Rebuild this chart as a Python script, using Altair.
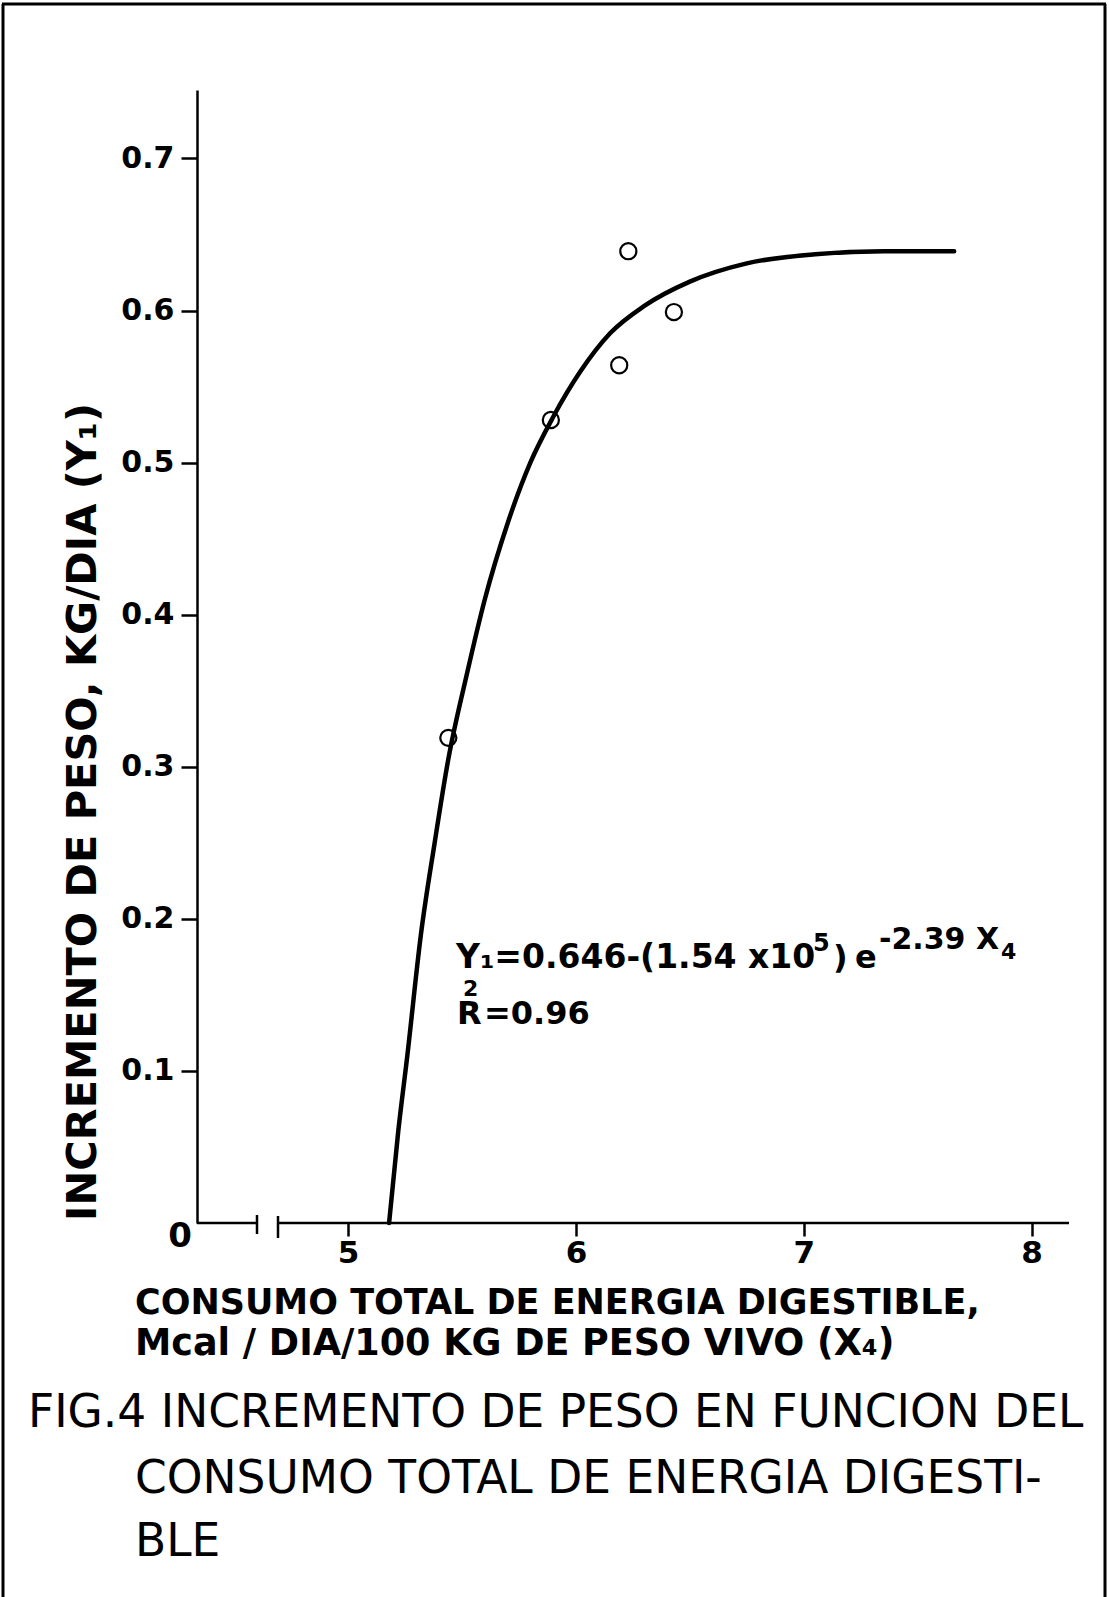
import altair as alt
import pandas as pd

# ---- data ----
obs_x = [5.44, 5.89, 6.19, 6.23, 6.43]
obs_y = [0.319, 0.528, 0.564, 0.639, 0.599]

fit_x = [5.18, 5.22, 5.26, 5.32, 5.38, 5.44, 5.52, 5.60, 5.70, 5.80, 5.90,
         6.02, 6.15, 6.30, 6.50, 6.75, 7.05, 7.35, 7.66]
fit_y = [0.000, 0.060, 0.110, 0.190, 0.250, 0.305, 0.360, 0.410, 0.460, 0.500,
         0.530, 0.560, 0.585, 0.603, 0.619, 0.631, 0.637, 0.639, 0.639]

x_ticks = [5, 6, 7, 8]
y_ticks = [0.1, 0.2, 0.3, 0.4, 0.5, 0.6, 0.7]

title_y = "INCREMENTO DE PESO, KG/DIA (Y₁)"
title_x1 = "CONSUMO TOTAL DE ENERGIA DIGESTIBLE,"
title_x2 = "Mcal / DIA/100 KG DE PESO VIVO (X₄)"
caption = ["FIG.4 INCREMENTO DE PESO EN FUNCION DEL",
           "CONSUMO TOTAL DE ENERGIA DIGESTI-",
           "BLE"]

# ---- layout ----
PAD_L, PAD_T = 197, 90
W, H = 872, 1133
FULL_W, FULL_H = 1109, 1597
FONT = "DejaVu Sans"

obs = pd.DataFrame({"x": obs_x, "y": obs_y})
fit = pd.DataFrame({"x": fit_x, "y": fit_y})
one = pd.DataFrame({"d": [0]})

xscale = alt.Scale(domain=[4.337, 8.164], nice=False, zero=False)
yscale = alt.Scale(domain=[0, 0.745], nice=False, zero=False)

xaxis = alt.Axis(values=x_ticks, format="d", title=None, grid=False, domain=False,
                 tickSize=13, tickWidth=2.5, tickColor="black",
                 labelFont=FONT, labelFontWeight="bold", labelFontSize=31,
                 labelColor="black", labelPadding=2, labelFlush=False)
yaxis = alt.Axis(values=y_ticks, format=".1f", title=None, grid=False,
                 domain=True, domainColor="black", domainWidth=2.5,
                 tickSize=16, tickWidth=2.5, tickColor="black",
                 labelFont=FONT, labelFontWeight="bold", labelFontSize=30,
                 labelColor="black", labelPadding=7, labelFlush=False)

curve = alt.Chart(fit).mark_line(color="black", strokeWidth=4.5,
                                 interpolate="monotone", strokeCap="round").encode(
    x=alt.X("x:Q", scale=xscale, axis=xaxis),
    y=alt.Y("y:Q", scale=yscale, axis=yaxis),
)
points = alt.Chart(obs).mark_point(shape="circle", filled=False, color="black",
                                   size=260, strokeWidth=2.2, opacity=1).encode(
    x=alt.X("x:Q", scale=xscale),
    y=alt.Y("y:Q", scale=yscale),
)


def txt(s, xp, yp, size, align="left", baseline="alphabetic", angle=0, weight="bold"):
    kw = dict(text=s, align=align, baseline=baseline, fontSize=size, font=FONT,
              fontWeight=weight, color="black")
    if angle:
        kw["angle"] = angle
    return alt.Chart(one).mark_text(**kw).encode(
        x=alt.value(xp - PAD_L), y=alt.value(yp - PAD_T))


def hrule(x1, x2, y, w=2.5):
    return alt.Chart(one).mark_rule(color="black", strokeWidth=w).encode(
        x=alt.value(x1 - PAD_L), x2=alt.value(x2 - PAD_L), y=alt.value(y - PAD_T))


def vrule(x, y1, y2, w=2.5):
    return alt.Chart(one).mark_rule(color="black", strokeWidth=w).encode(
        x=alt.value(x - PAD_L), y=alt.value(y1 - PAD_T), y2=alt.value(y2 - PAD_T))


AX_Y = PAD_T + H
decor = [
    # frame of the scanned page
    hrule(2, 1106, 4, 3), vrule(3, 4, FULL_H, 3), vrule(1105, 4, FULL_H, 3),
    # broken x axis
    hrule(PAD_L, 257, AX_Y), vrule(257, AX_Y - 8, AX_Y + 11),
    vrule(278, AX_Y - 7, AX_Y + 15), hrule(278, PAD_L + W, AX_Y),
]

texts = [
    txt("0", 180, 1237, 34, align="center", baseline="middle"),
    txt(title_y, 84, 812, 41.5, align="center", baseline="middle", angle=270),
    txt(title_x1, 135, 1314, 35),
    txt(title_x2, 135, 1355, 36.5),
    txt(caption[0], 28, 1427, 45.5, weight="normal"),
    txt(caption[1], 135, 1493, 45.5, weight="normal"),
    txt(caption[2], 135, 1556, 45.5, weight="normal"),
    # equation
    txt("Y₁=0.646-(1.54 x10", 456, 968, 33),
    txt("5", 813, 951, 24),
    txt(")", 833, 968, 32),
    txt("e", 855, 968, 32),
    txt("-2.39 X", 879, 949, 30),
    txt("4", 1001, 959, 22),
    txt("R", 457, 1024, 32),
    txt("2", 463, 996, 22),
    txt("=0.96", 484, 1024, 32),
]

chart = alt.layer(curve, points, *decor, *texts).properties(
    width=W, height=H,
    padding={"left": PAD_L, "top": PAD_T, "right": FULL_W - PAD_L - W,
             "bottom": FULL_H - PAD_T - H},
    autosize=alt.AutoSizeParams(type="none"),
    background="white",
).configure_view(stroke=None)

chart.save("out.html", embed_options={"renderer": "svg", "actions": False})
